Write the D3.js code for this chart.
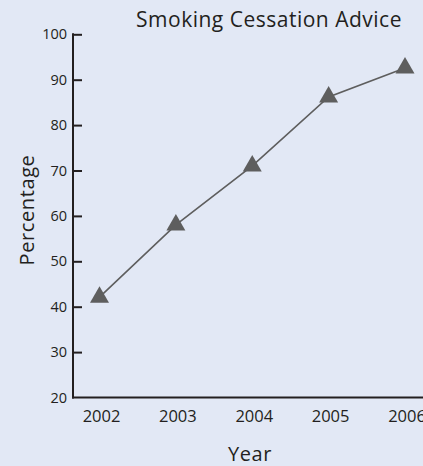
<!DOCTYPE html>
<html><head><meta charset="utf-8">
<script src="https://cdn.jsdelivr.net/npm/d3@7"></script>
<style>
html,body{margin:0;padding:0;background:#e2e8f5;}
svg{display:block;}
text{font-family:"Open Sans",sans-serif;fill:#231f20;}
</style></head>
<body>
<script>
const years = ["2002","2003","2004","2005","2006"];
const percentages = [42.1, 58.0, 71.0, 86.2, 92.6];
const yTicks = [20,30,40,50,60,70,80,90,100];
const title = "Smoking Cessation Advice";
const xTitle = "Year";
const yTitle = "Percentage";

const W = 423, H = 466;
const svg = d3.select("body").append("svg").attr("width", W).attr("height", H);
svg.append("rect").attr("width", W).attr("height", H).attr("fill", "#e2e8f5");

const axisX = 73, baseY = 397.5;
const x = d3.scalePoint().domain(years).range([99.5, 405]);
const y = d3.scaleLinear().domain([20, 100]).range([baseY, 34.3]);

// y axis
const yAxis = svg.append("g").attr("transform", `translate(${axisX},0)`)
  .call(d3.axisRight(y).tickValues(yTicks.slice(1)).tickSize(9).tickFormat(""));
yAxis.select(".domain").remove();
yAxis.selectAll(".tick line").attr("stroke", "#231f20").attr("stroke-width", 2);
svg.append("line").attr("x1", axisX).attr("x2", axisX).attr("y1", y(100)-1).attr("y2", baseY+1)
  .attr("stroke", "#231f20").attr("stroke-width", 2);
svg.selectAll(".ylab").data(yTicks).join("text")
  .attr("x", 67).attr("y", d => y(d)).attr("dy", "0.35em")
  .attr("text-anchor", "end").attr("font-size", 14.5).text(d => d);

// x axis
svg.append("line").attr("x1", axisX-1).attr("x2", W).attr("y1", baseY).attr("y2", baseY)
  .attr("stroke", "#231f20").attr("stroke-width", 2);
svg.selectAll(".xlab").data(years).join("text")
  .attr("x", d => x(d) + 2).attr("y", 422)
  .attr("text-anchor", "middle").attr("font-size", 16.5).text(d => d);

// line
const line = d3.line().x((d, i) => x(years[i])).y(d => y(d));
svg.append("path").datum(percentages).attr("d", line)
  .attr("fill", "none").attr("stroke", "#5e5e5e").attr("stroke-width", 1.6);
svg.selectAll(".pt").data(percentages).join("path")
  .attr("transform", (d, i) => `translate(${x(years[i])},${y(d)})`)
  .attr("d", d3.symbol(d3.symbolTriangle, 156))
  .attr("fill", "#5e5e5e");

// titles
svg.append("text").attr("x", 269).attr("y", 27).attr("text-anchor", "middle")
  .attr("font-size", 21).attr("letter-spacing", 0.5).text(title);
svg.append("text").attr("x", 250).attr("y", 461).attr("text-anchor", "middle")
  .attr("font-size", 20).attr("letter-spacing", 0.6).text(xTitle);
svg.append("text").attr("transform", "translate(34,210) rotate(-90)")
  .attr("text-anchor", "middle").attr("font-size", 20).attr("letter-spacing", 0.6).text(yTitle);
</script>
</body></html>
